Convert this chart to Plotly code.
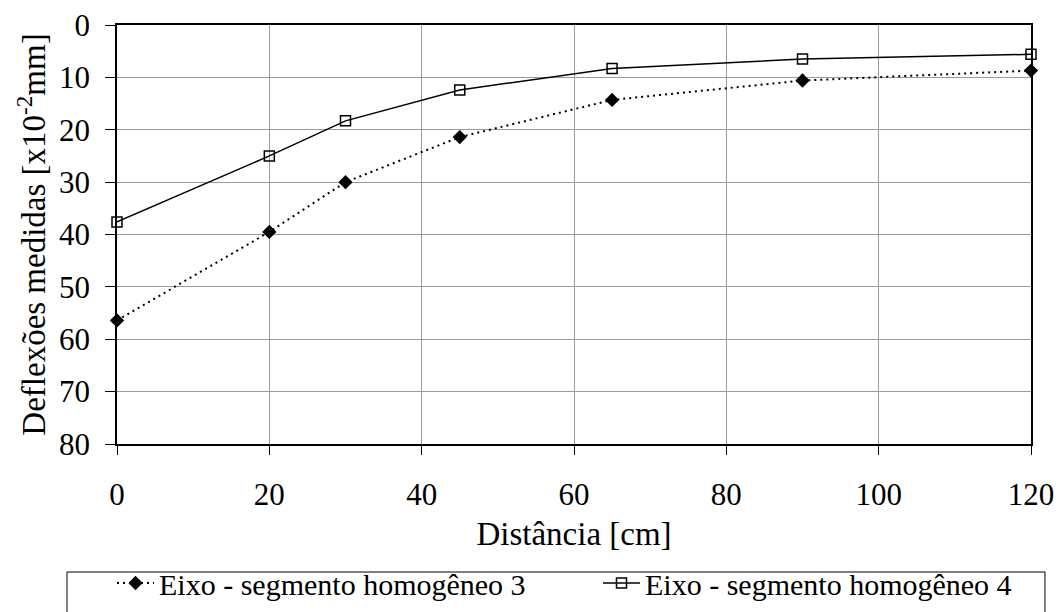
import plotly.graph_objects as go

distancia = [0, 20, 30, 45, 65, 90, 120]
seg3 = [56.4, 39.5, 30.0, 21.4, 14.3, 10.6, 8.7]
seg4 = [37.6, 25.0, 18.3, 12.4, 8.3, 6.5, 5.6]
nome3 = "Eixo - segmento homogêneo 3"
nome4 = "Eixo - segmento homogêneo 4"

FONT = "Liberation Serif"
FS = 31
FS_TITLE = 33
FS_LEG = 30

fig = go.Figure()
fig.add_trace(go.Scatter(
    x=distancia, y=seg3, name=nome3, mode="lines+markers",
    line=dict(color="black", width=2, dash="2px,4px"),
    marker=dict(symbol="diamond", size=11, color="black"),
    cliponaxis=False,
))
fig.add_trace(go.Scatter(
    x=distancia, y=seg4, name=nome4, mode="lines+markers",
    line=dict(color="black", width=1.5),
    marker=dict(symbol="square-open", size=10, color="black", line=dict(width=1.5)),
    cliponaxis=False,
))

fig.update_layout(
    width=1059, height=612,
    margin=dict(l=117, r=28, t=25, b=168, autoexpand=False),
    paper_bgcolor="white", plot_bgcolor="white",
    font=dict(family=FONT, size=FS, color="black"),
    showlegend=True,
    legend=dict(
        orientation="h", xref="paper", x=(112 - 117) / 914, xanchor="left",
        yref="paper", y=(444 - 557) / 419, yanchor="top",
        itemwidth=37,
        entrywidth=434, entrywidthmode="pixels",
        font=dict(family=FONT, size=FS_LEG, color="black"),
        bgcolor="rgba(0,0,0,0)", borderwidth=0,
    ),
    shapes=[dict(type="rect", xref="paper", yref="paper",
                 x0=-0.0547, x1=1.0153, y0=-0.3055, y1=-0.42,
                 line=dict(color="black", width=1))],
)
fig.update_xaxes(
    range=[0, 120], dtick=20, tick0=0,
    showgrid=True, gridcolor="#9a9a9a", gridwidth=1,
    showline=True, linecolor="black", linewidth=1.5, mirror=True,
    ticks="outside", ticklen=9, tickcolor="black", tickwidth=1,
    tickfont=dict(family=FONT, size=FS, color="black"),
    ticklabelstandoff=13,
    zeroline=False,
    title=dict(text="Distância [cm]", standoff=11,
               font=dict(family=FONT, size=FS_TITLE, color="black")),
)
fig.update_yaxes(
    range=[80, 0], dtick=10, tick0=0,
    showgrid=True, gridcolor="#9a9a9a", gridwidth=1,
    showline=True, linecolor="black", linewidth=1.5, mirror=True,
    ticks="outside", ticklen=10, tickcolor="black", tickwidth=1,
    tickfont=dict(family=FONT, size=FS, color="black"),
    ticklabelstandoff=9,
    zeroline=False,
    title=dict(text="Deflexões medidas [x10<sup>-2</sup>mm]", standoff=3,
               font=dict(family=FONT, size=FS_TITLE, color="black")),
)

fig.write_html("out.html", config={"displayModeBar": False},
               post_script="document.body.style.margin='0px';")
